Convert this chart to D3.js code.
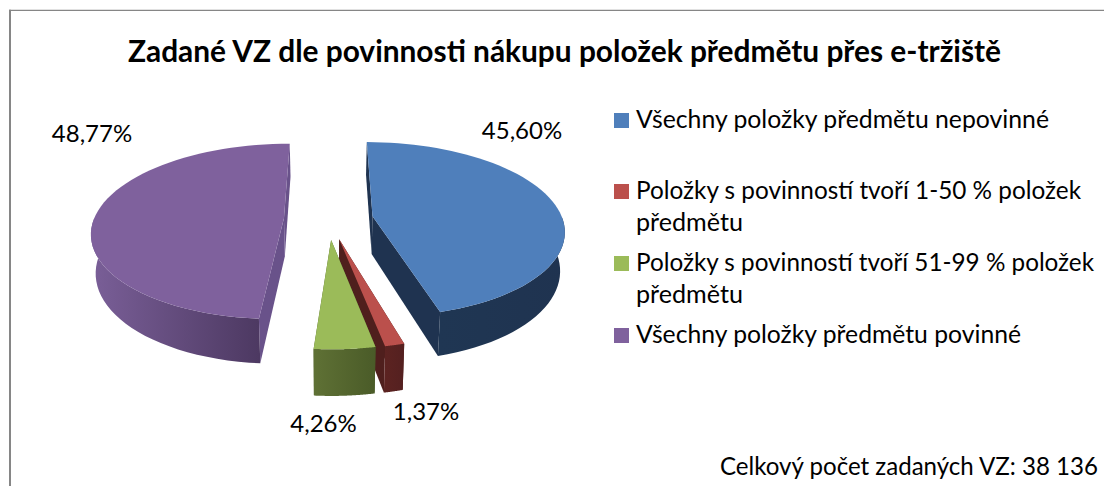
<!DOCTYPE html>
<html><head><meta charset="utf-8">
<script src="https://cdn.jsdelivr.net/npm/d3@7"></script>
<style>html,body{margin:0;background:#fff}svg{display:block}text{font-family:Lato,"Open Sans",sans-serif;fill:#000}</style>
</head><body><svg id="c" width="1104" height="486"></svg>
<script>
const categories=["Všechny položky předmětu nepovinné","Položky s povinností tvoří 1-50 % položek předmětu","Položky s povinností tvoří 51-99 % položek předmětu","Všechny položky předmětu povinné"];
const values=[45.60,1.37,4.26,48.77];
const valueLabels=["45,60%","1,37%","4,26%","48,77%"];
const legendLines=[["Všechny položky předmětu nepovinné"],["Položky s povinností tvoří 1-50 % položek","předmětu"],["Položky s povinností tvoří 51-99 % položek","předmětu"],["Všechny položky předmětu povinné"]];
const legendWidths=[[413],[445,107],[458,107],[385]];
const topColors=["#4f7fbb","#bb504c","#9bbb59","#7f619d"];
const wallDark=[["#1f3653","#1f3350"],["#5c2321","#542020"],["#5f7135","#4a5b28"],["#7a5f98","#4d3962"]];
const sideColors=["#1f3350","#4f1f1d","#4a5b28","#69528a"];
const title="Zadané VZ dle povinnosti nákupu položek předmětu přes e-tržiště";
const note="Celkový počet zadaných VZ: 38 136";

const svg=d3.select("#c");
const cx=328.5,cy=219,Rx=190,Ry=86,persp=.15,explode=.235,depth=38,baseShrink=.98;
const proj=(x,y,bottom)=>{
  const s=1/(1-persp*y);
  let X=cx+Rx*x*s,Y=cy+Ry*y*s;
  if(bottom){X=cx+(X-cx)*baseShrink;Y+=depth*s;}
  return [X,Y];
};
const arcs=d3.pie().sort(null)(values);
const line=d3.line();
const defs=svg.append("defs");

svg.append("line").attr("x1",10).attr("x2",10).attr("y1",9.7).attr("y2",486).attr("stroke","#868686").attr("stroke-width",2);
svg.append("line").attr("x1",9).attr("x2",1104).attr("y1",10.4).attr("y2",10.4).attr("stroke","#868686").attr("stroke-width",1.3);

const order=[3,0,1,2];
order.forEach(i=>{
  const a=arcs[i],mid=(a.startAngle+a.endAngle)/2;
  const ox=Math.sin(mid)*explode,oy=-Math.cos(mid)*explode;
  const pt=(ang,r)=>[ox+Math.sin(ang)*r,oy-Math.cos(ang)*r];
  const angs=d3.range(0,61).map(k=>a.startAngle+(a.endAngle-a.startAngle)*k/60);
  const rim=angs.map(t=>pt(t,1));
  const ap=[ox,oy];
  const g=svg.append("g");
  const T=p=>proj(p[0],p[1],false),B=p=>proj(p[0],p[1],true);
  const quad=(p,q)=>line([T(p),T(q),B(q),B(p)])+"Z";
  g.append("path").attr("d",quad(ap,rim[0])).attr("fill",sideColors[i]);
  g.append("path").attr("d",quad(ap,rim[60])).attr("fill",sideColors[i]);
  const front=rim.filter(p=>p[1]>=oy);
  const xs=d3.extent(front.map(p=>T(p)[0]));
  const gid="w"+i;
  const lg=defs.append("linearGradient").attr("id",gid).attr("gradientUnits","userSpaceOnUse")
    .attr("x1",xs[0]).attr("x2",xs[1]).attr("y1",0).attr("y2",0);
  lg.append("stop").attr("offset",0).attr("stop-color",wallDark[i][0]);
  lg.append("stop").attr("offset",1).attr("stop-color",wallDark[i][1]);
  g.append("path").attr("d",line(front.map(T).concat(front.map(B).reverse()))+"Z").attr("fill",`url(#${gid})`);
  g.append("path").attr("d",line([T(ap)].concat(rim.map(T)))+"Z").attr("fill",topColors[i]);
});

svg.append("text").attr("x",128).attr("y",62).attr("font-size",29.8).attr("font-weight",700)
  .attr("textLength",873).attr("lengthAdjust","spacingAndGlyphs").text(title);

const labelPos=[[522,139],[426,420],[323.5,432],[92,142]];
svg.selectAll("text.v").data(valueLabels).join("text").attr("class","v")
  .attr("x",(d,i)=>labelPos[i][0]).attr("y",(d,i)=>labelPos[i][1]).attr("text-anchor","middle").attr("font-size",24).text(d=>d);

const legendY=[128,199,271,343];
const lg=svg.selectAll("g.l").data(categories).join("g").attr("class","l");
lg.append("rect").attr("x",614).attr("width",15).attr("height",15).attr("y",(d,i)=>legendY[i]-15).attr("fill",(d,i)=>topColors[i]);
lg.each(function(d,i){
  d3.select(this).selectAll("text").data(legendLines[i]).join("text").attr("x",636)
    .attr("y",(l,j)=>legendY[i]+(j?32:0)).attr("font-size",24.4)
    .attr("textLength",(l,j)=>legendWidths[i][j]).attr("lengthAdjust","spacingAndGlyphs").text(l=>l);
});
svg.append("text").attr("x",720).attr("y",475).attr("font-size",24.4).attr("textLength",378).attr("lengthAdjust","spacingAndGlyphs").text(note);
</script></body></html>
